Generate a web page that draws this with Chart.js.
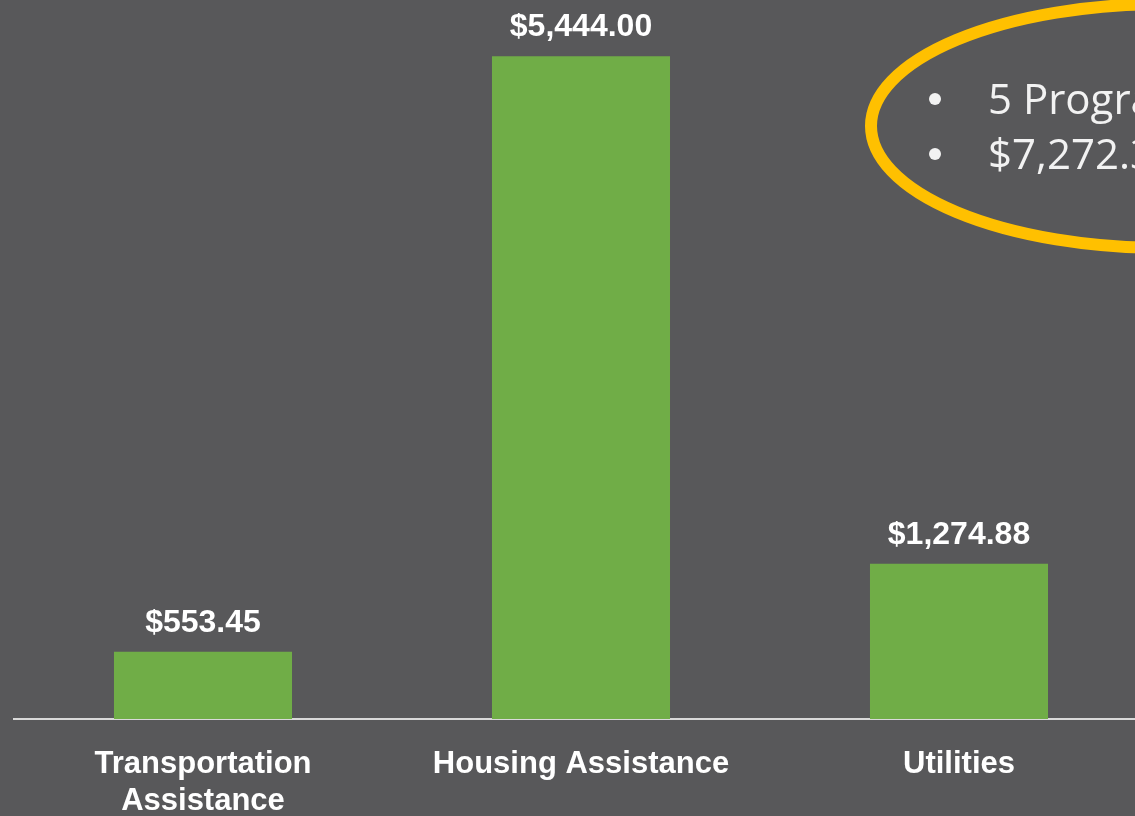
<!DOCTYPE html>
<html>
<head>
<meta charset="utf-8">
<script src="https://cdn.jsdelivr.net/npm/chart.js@4.4.1/dist/chart.umd.min.js"></script>
<style>
  html, body { margin: 0; padding: 0; background: #58585a; overflow: hidden; }
  #wrap { width: 1150px; height: 816px; position: relative; }
</style>
</head>
<body>
<div id="wrap"><canvas id="chart"></canvas></div>
<script>
// values
var categories = [["Transportation", "Assistance"], "Housing Assistance", "Utilities"];
var amounts = [553.45, 5444.00, 1274.88];
var noteLines = ["5 Programs", "$7,272.33"];

function money(v) {
    return "$" + v.toLocaleString("en-US", { minimumFractionDigits: 2, maximumFractionDigits: 2 });
}

// value labels above each bar
var barLabels = {
    id: "barLabels",
    afterDatasetsDraw: function (chart) {
        var ctx = chart.ctx;
        var meta = chart.getDatasetMeta(0);
        ctx.save();
        ctx.fillStyle = "#ffffff";
        ctx.font = "bold 32px 'Liberation Sans', Arial, sans-serif";
        ctx.textAlign = "center";
        ctx.textBaseline = "alphabetic";
        meta.data.forEach(function (bar, i) {
            ctx.fillText(money(amounts[i]), bar.x, bar.y - 20);
        });
        ctx.restore();
    }
};

// the yellow ellipse callout in the top right corner
var callout = {
    id: "callout",
    afterDraw: function (chart) {
        var ctx = chart.ctx;
        ctx.save();
        ctx.strokeStyle = "#ffc000";
        ctx.lineWidth = 12;
        ctx.beginPath();
        ctx.ellipse(1164, 126, 293, 122, 0, 0, Math.PI * 2);
        ctx.stroke();

        ctx.fillStyle = "#f2f2f2";
        ctx.font = "42px 'Open Sans', sans-serif";
        ctx.textAlign = "left";
        ctx.textBaseline = "alphabetic";
        var baselines = [114, 169];
        noteLines.forEach(function (txt, i) {
            ctx.beginPath();
            ctx.arc(935, baselines[i] - 15, 6, 0, Math.PI * 2);
            ctx.fill();
            ctx.fillText(txt, 988, baselines[i]);
        });
        ctx.restore();
    }
};

new Chart("chart", {
    type: "bar",
    data: {
        labels: categories,
        datasets: [{
            data: amounts,
            backgroundColor: "#70ad47",
            borderWidth: 0,
            categoryPercentage: 1,
            barPercentage: 0.471
        }]
    },
    options: {
        responsive: true,
        maintainAspectRatio: false,
        animation: false,
        layout: { padding: { left: 14, right: 2, top: 13, bottom: 0 } },
        plugins: {
            legend: { display: false },
            tooltip: { enabled: false }
        },
        scales: {
            x: {
                grid: { display: false, drawTicks: false, tickLength: 0 },
                border: { display: true, color: "#d9d9d9", width: 2 },
                ticks: {
                    color: "#ffffff",
                    padding: 27,
                    maxRotation: 0,
                    autoSkip: false,
                    font: { family: "'Liberation Sans', Arial, sans-serif", size: 31, weight: "bold", lineHeight: 1.2 }
                },
                afterFit: function (scale) { scale.height = 97; }
            },
            y: {
                display: false,
                min: 0,
                max: 5800
            }
        }
    },
    plugins: [barLabels, callout]
});
</script>
</body>
</html>
